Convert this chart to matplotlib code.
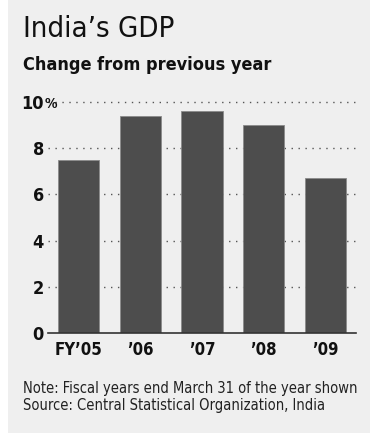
import matplotlib
matplotlib.use("Agg")
import matplotlib.pyplot as plt
from matplotlib.patches import Rectangle

# ----------------------------
# Data
# ----------------------------
years = ["FY\u201905", "\u201906", "\u201907", "\u201908", "\u201909"]
gdp_change = [7.5, 9.4, 9.6, 9.0, 6.7]
y_ticks = [0, 2, 4, 6, 8, 10]

W, H = 381, 433
plt.rcParams["font.family"] = ["DejaVu Sans"]
plt.rcParams["font.stretch"] = "condensed"


def fx(px):
    return px / W


def fy(py):
    return 1 - py / H


fig = plt.figure(figsize=(W / 100, H / 100), dpi=100, facecolor="white")

# light gray panel
fig.patches.append(Rectangle((fx(8), 0), fx(370) - fx(8), 1, transform=fig.transFigure,
                             facecolor="#efefef", edgecolor="none", zorder=-5))

ax = fig.add_axes([fx(48), fy(333), fx(356) - fx(48), (333 - 102) / H])
ax.set_facecolor("none")
ax.set_zorder(2)

ax.bar(range(len(years)), gdp_change, width=0.667, color="#4d4d4d",
       edgecolor="#8a8a8a", linewidth=0.6, zorder=2)

ax.set_xlim(-0.5, len(years) - 0.5)
ax.set_ylim(0, 10)
ax.set_yticks(y_ticks)
ax.set_yticklabels([str(t) for t in y_ticks])
ax.set_xticks(range(len(years)))
ax.set_xticklabels(years)

for s in ["top", "right", "left"]:
    ax.spines[s].set_visible(False)
ax.spines["bottom"].set_color("#333333")
ax.spines["bottom"].set_linewidth(1.2)
ax.spines["bottom"].set_zorder(3)

ax.tick_params(axis="y", length=0, pad=3, labelsize=13, labelcolor="#111111")
ax.tick_params(axis="x", length=0, pad=6, labelsize=12, labelcolor="#111111")
for lab in ax.get_yticklabels() + ax.get_xticklabels():
    lab.set_fontweight("bold")

# dotted gridlines
for t in y_ticks[1:]:
    ax.axhline(t, color="#555555", linewidth=1, linestyle=(0, (1, 4)),
               zorder=1, clip_on=False)

# small % sign after top label
fig.text(fx(45), fy(108), "%", fontsize=10, fontweight="bold", color="#111111",
         ha="left", va="baseline")

fig.text(fx(23), fy(37), "India\u2019s GDP", fontsize=21, color="#111111",
         ha="left", va="baseline")
fig.text(fx(23), fy(70), "Change from previous year", fontsize=13, fontweight="bold",
         color="#111111", ha="left", va="baseline")
fig.text(fx(23), fy(393), "Note: Fiscal years end March 31 of the year shown",
         fontsize=10.5, color="#222222", ha="left", va="baseline")
fig.text(fx(23), fy(410), "Source: Central Statistical Organization, India",
         fontsize=10.5, color="#222222", ha="left", va="baseline")

fig.savefig("out.png", dpi=100)
